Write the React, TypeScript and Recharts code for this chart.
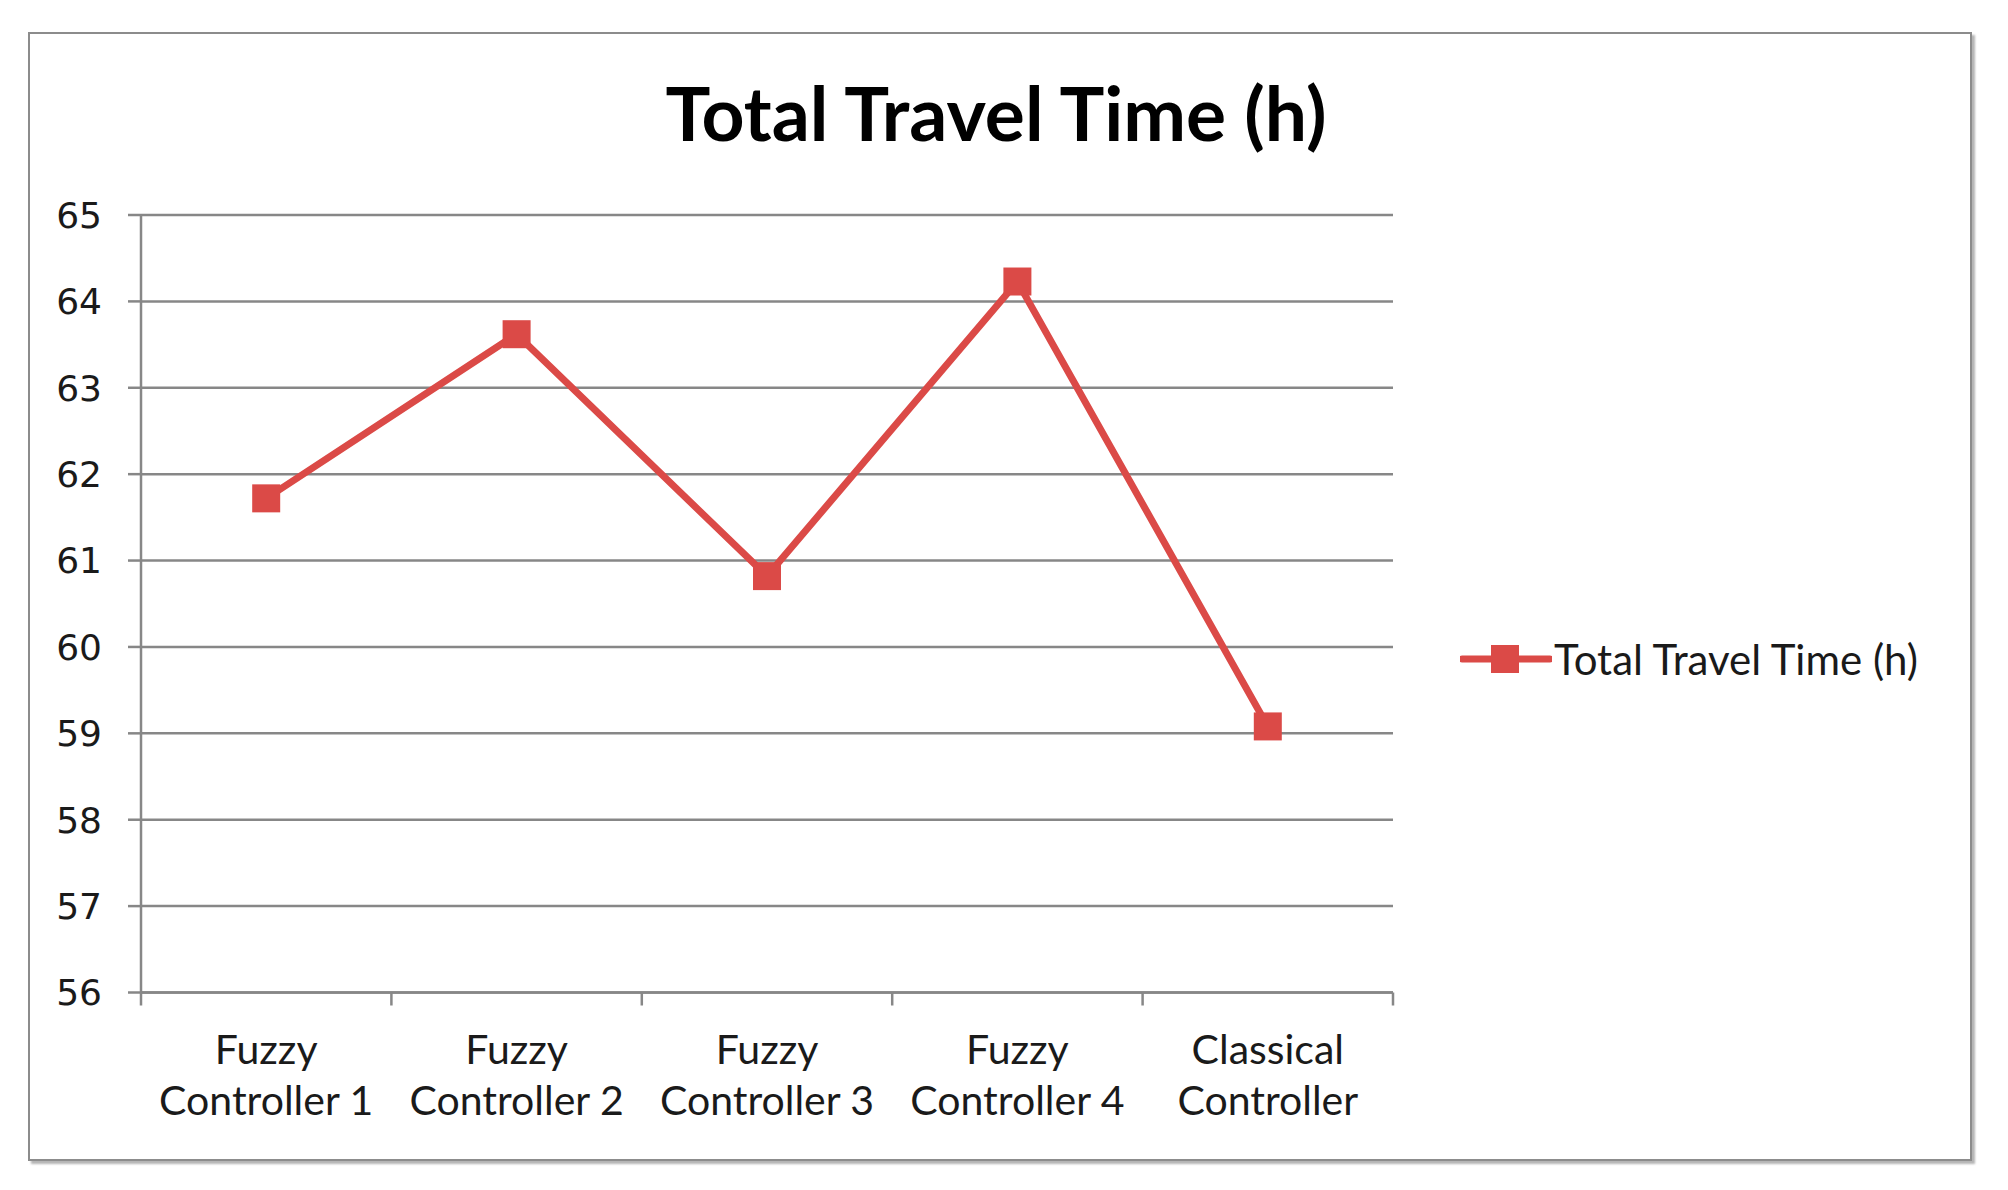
import { LineChart, Line, XAxis, YAxis, CartesianGrid, Legend } from 'recharts'

const categories = [
  'Fuzzy Controller 1',
  'Fuzzy Controller 2',
  'Fuzzy Controller 3',
  'Fuzzy Controller 4',
  'Classical Controller',
]
const travelTime = [61.72, 63.62, 60.82, 64.23, 59.08]
const yTicks = [56, 57, 58, 59, 60, 61, 62, 63, 64, 65]
const seriesName = 'Total Travel Time (h)'
const title = 'Total Travel Time (h)'

const RED = '#DB4A47'
const GRID = '#878787'
const LABEL_FONT = 'Lato, "Open Sans", sans-serif'

// category centres sit at i + 0.5 so tick marks can fall on the boundaries
const data = categories.map((name, i) => ({ name, pos: i + 0.5, value: travelTime[i] }))
const xTicks = Array.from({ length: categories.length * 2 + 1 }, (_, i) => i / 2)

function SquareDot(props: any) {
  const { cx, cy, index } = props
  if (cx == null || cy == null) return null
  return <rect key={`dot-${index}`} x={cx - 14} y={cy - 14} width={28} height={28} fill={RED} />
}

function CategoryTick(props: any) {
  const { x, y, payload } = props
  const v = payload.value as number
  if (Number.isInteger(v)) {
    return <line x1={x} y1={y} x2={x} y2={y + 13} stroke={GRID} strokeWidth={2.5} />
  }
  const label = categories[Math.floor(v)]
  const [first, ...rest] = label.split(' ')
  return (
    <text x={x} y={y} textAnchor="middle" fontFamily={LABEL_FONT} fontSize={41} fill="#1a1a1a">
      <tspan x={x} dy={71}>{first}</tspan>
      <tspan x={x} dy={51}>{rest.join(' ')}</tspan>
    </text>
  )
}

function LegendContent() {
  return (
    <div style={{ display: 'flex', alignItems: 'center' }}>
      <svg width={92} height={32}>
        <line x1={2} y1={16} x2={90} y2={16} stroke={RED} strokeWidth={7} strokeLinecap="round" />
        <rect x={31} y={2} width={28} height={28} fill={RED} />
      </svg>
      <span style={{ fontFamily: LABEL_FONT, fontSize: 42, lineHeight: 1.2, color: '#1a1a1a', marginLeft: 2 }}>
        {seriesName}
      </span>
    </div>
  )
}

export default function App() {
  return (
    <div style={{ position: 'absolute', left: 0, top: 0, width: 2008, height: 1190, background: '#fff' }}>
      <div
        style={{
          position: 'absolute',
          left: 28,
          top: 32,
          width: 1940,
          height: 1125,
          border: '2px solid #8c8c8c',
          boxShadow: '3px 3px 2px #b5b5b5',
        }}
      />
      <div
        style={{
          position: 'absolute',
          left: 0,
          top: 75,
          width: 1992,
          textAlign: 'center',
          fontFamily: LABEL_FONT,
          fontWeight: 700,
          fontSize: 75,
          lineHeight: 1,
          color: '#000',
        }}
      >
        {title}
      </div>
      <LineChart
        width={2008}
        height={1190}
        data={data}
        margin={{ top: 215, right: 615, bottom: 47.5, left: 0 }}
        style={{ position: 'absolute', left: 0, top: 0 }}
      >
        <CartesianGrid vertical={false} stroke={GRID} strokeWidth={2.5} />
        <XAxis
          type="number"
          dataKey="pos"
          domain={[0, categories.length]}
          ticks={xTicks}
          interval={0}
          height={150}
          tickLine={false}
          tickSize={0}
          tickMargin={0}
          axisLine={{ stroke: GRID, strokeWidth: 2.5 }}
          tick={<CategoryTick />}
        />
        <YAxis
          width={141}
          domain={[56, 65]}
          ticks={yTicks}
          interval={0}
          tickSize={13}
          tickMargin={26}
          tickLine={{ stroke: GRID, strokeWidth: 2.5 }}
          axisLine={{ stroke: GRID, strokeWidth: 2.5 }}
          tick={{ fontFamily: '"DejaVu Sans", Verdana, sans-serif', fontSize: 36, fill: '#1a1a1a' }}
        />
        <Legend
          layout="horizontal"
          verticalAlign="middle"
          align="center"
          content={<LegendContent />}
          wrapperStyle={{ left: 1460, top: 634, width: 'auto' }}
        />
        <Line
          type="linear"
          dataKey="value"
          name={seriesName}
          stroke={RED}
          strokeWidth={7}
          dot={SquareDot}
          activeDot={false}
          isAnimationActive={false}
        />
      </LineChart>
    </div>
  )
}
